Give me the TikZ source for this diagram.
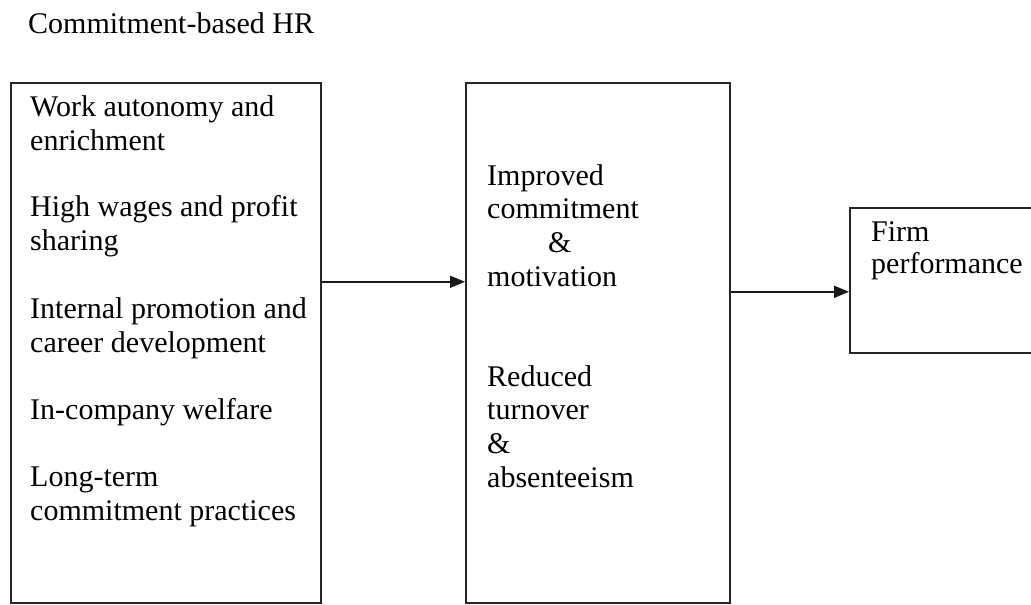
\documentclass[tikz,border=0pt]{standalone}
\usepackage{fontspec}
\setmainfont{Liberation Serif}
\usetikzlibrary{arrows.meta}
\begin{document}
\begin{tikzpicture}
            [x=1pt,y=-1pt,
            Box/.style={draw=black!85,line width=1.6pt,inner sep=0pt,anchor=north west},
            Txt/.style={font=\fontsize{30}{33.6}\selectfont,align=left,inner sep=0pt,anchor=base west},
            Arr/.style={-{Triangle[length=15pt,width=12pt]},line width=1.6pt,draw=black!90}];
            \useasboundingbox (0,0) rectangle (1031,605);
            \clip (0,0) rectangle (1031,605);
            \node[Txt] (title) at (28,33){Commitment-based HR};
            % the three boxes
            \node[Box,minimum width=310pt,minimum height=520pt] (hr) at (10,82){};
            \node[Box,minimum width=264pt,minimum height=520pt] (outcome) at (465,82){};
            \node[Box,minimum width=260pt,minimum height=145pt] (firm) at (849,207){};
            % practices (base is the last line)
            \node[Txt] (t1) at (30,150){Work autonomy and\\enrichment};
            \node[Txt] (t2) at (30,250){High wages and profit\\sharing};
            \node[Txt] (t3) at (30,352){Internal promotion and\\career development};
            \node[Txt] (t4) at (30,419){In-company welfare};
            \node[Txt] (t5) at (30,520){Long-term\\commitment practices};
            % outcomes
            \node[Txt] (o1) at (487,286){Improved\\commitment\\\hspace*{61pt}\&\\motivation};
            \node[Txt] (o2) at (487,487){Reduced\\turnover\\\&\\absenteeism};
            \node[Txt,font=\fontsize{30}{31.5}\selectfont] (f1) at (871,273){Firm\\performance};
            % links
            \draw[Arr] ([yshift=61pt]hr.east) to ([yshift=61pt]outcome.west);
            \draw[Arr] ([yshift=51pt]outcome.east) to ([yshift=51pt]outcome.east -| firm.west);
        \end{tikzpicture}
\end{document}
